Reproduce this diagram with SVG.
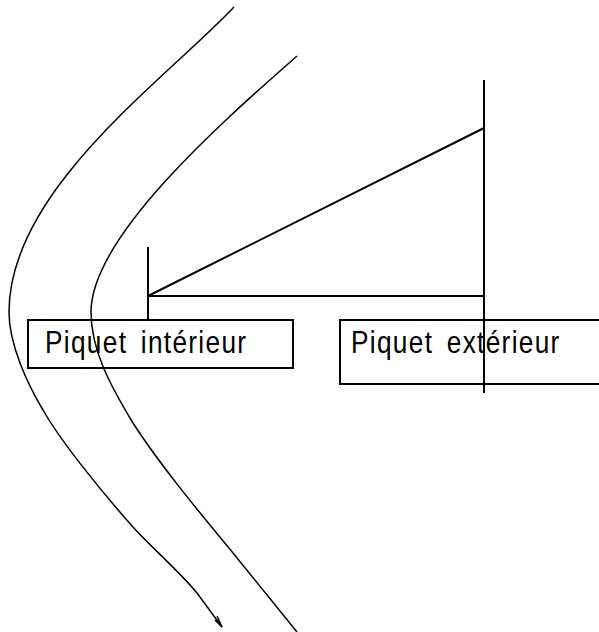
<svg xmlns="http://www.w3.org/2000/svg" width="599" height="632" viewBox="0 0 599 632">
<style>
.c{fill:none;stroke:#000;stroke-width:1.5}
.l{fill:none;stroke:#000;stroke-width:2}
.b{fill:none;stroke:#000;stroke-width:2}
text{font-family:"Liberation Sans",Arial,sans-serif;font-size:32px;fill:#000;word-spacing:6px;letter-spacing:1.6px}
</style>
<rect width="599" height="632" fill="#fff"/>
<g id="connectors">
<path class="c" d="M234 7C165 80 9 190 9 312C9 345 28 385 43 410C60 440 100 490 133 527C150 546 180 572 197 593L222 627"/>
<path class="c" d="M215 620L222 627L217 616"/>
<path class="c" d="M297 56C230 115 91 235 91 312C91 350 110 385 133 423C160 465 200 513 233 553L297 632"/>
<path class="l" d="M148 247V320"/>
<path class="l" d="M148 296H484"/>
<path class="l" d="M148 296L484 128"/>
<path class="l" d="M484 80V393"/>
</g>
<g id="piquet-interieur">
<rect class="b" x="28" y="320" width="265" height="48"/>
<text transform="translate(45 353) scale(.82 1)">Piquet intérieur</text>
</g>
<g id="piquet-exterieur">
<path class="b" d="M599 320H340V384H599"/>
<text transform="translate(351 353) scale(.82 1)">Piquet extérieur</text>
</g>
</svg>
